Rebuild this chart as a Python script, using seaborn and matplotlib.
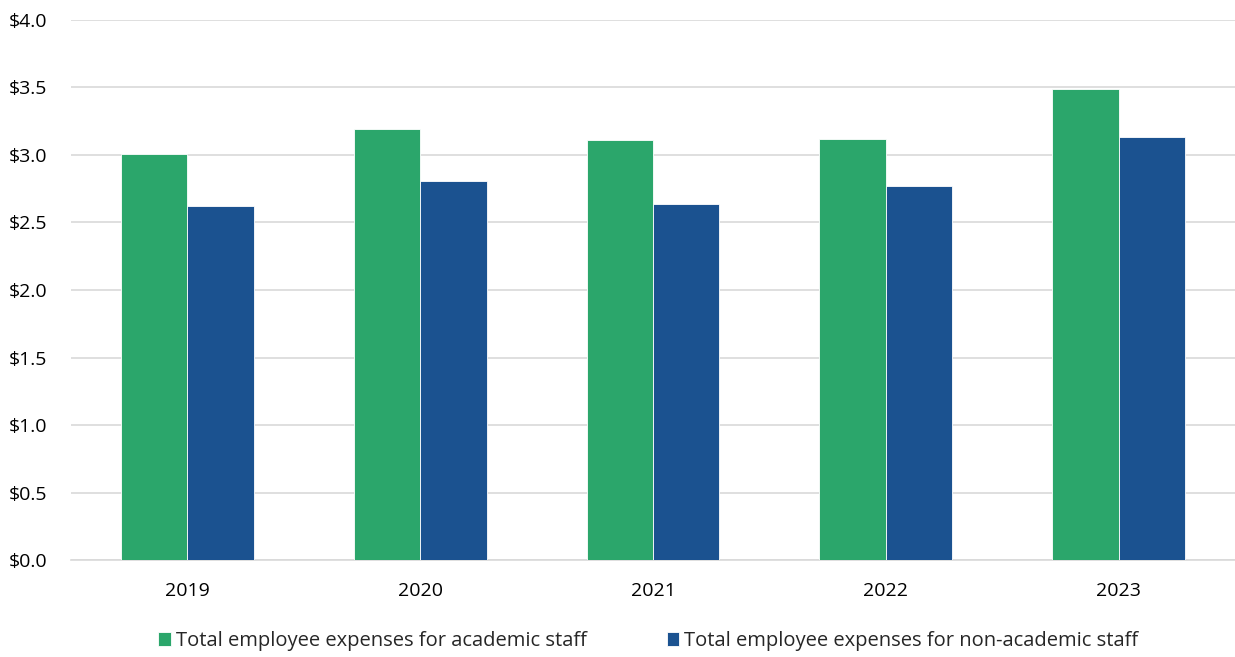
import matplotlib
matplotlib.use("Agg")
import matplotlib.pyplot as plt
import seaborn as sns
import pandas as pd
from matplotlib.ticker import FuncFormatter

# -----------------------------
# data (billions)
# -----------------------------
years = ["2019", "2020", "2021", "2022", "2023"]
academic = [3.01, 3.19, 3.11, 3.12, 3.49]
non_academic = [2.62, 2.81, 2.64, 2.77, 3.13]
series_names = [
    "Total employee expenses for academic staff",
    "Total employee expenses for non-academic staff",
]
colors = ["#2BA66B", "#1B5290"]

df = pd.DataFrame({
    "year": years * 2,
    "value": academic + non_academic,
    "series": [series_names[0]] * len(years) + [series_names[1]] * len(years),
})

sns.set_style("white")
plt.rcParams["font.family"] = ["Open Sans", "DejaVu Sans"]

fig = plt.figure(figsize=(12.35, 6.57), dpi=100)
ax = fig.add_axes([0.0575, 0.1476, 0.9425, 0.822])

sns.barplot(data=df, x="year", y="value", hue="series", palette=colors,
            width=0.57, saturation=1, ax=ax, zorder=3, linewidth=0.6)

ax.set_ylim(0, 4.0)
ax.set_yticks([i * 0.5 for i in range(9)])
ax.yaxis.set_major_formatter(FuncFormatter(lambda v, _: f"${v:.1f}"))
ax.grid(axis="y", color="#D9D9D9", linewidth=1.2, zorder=0)
ax.set_axisbelow(True)
for s in ["top", "right", "left"]:
    ax.spines[s].set_visible(False)
ax.spines["bottom"].set_color("#D9D9D9")
ax.spines["bottom"].set_linewidth(1.2)
ax.tick_params(axis="both", length=0, labelsize=14, colors="#000000")
ax.tick_params(axis="x", pad=16)
for lab in ax.get_yticklabels():
    lab.set_horizontalalignment("left")
ax.yaxis.set_tick_params(pad=45)
ax.set_xlabel("")
ax.set_ylabel("")

handles, labels = ax.get_legend_handles_labels()
ax.get_legend().remove()
fig.legend(handles, labels, loc="center", bbox_to_anchor=(0.525, 0.024), ncol=2,
           frameon=False, fontsize=14.5, handlelength=0.6, handleheight=0.7,
           handletextpad=0.25, columnspacing=4.0)

fig.savefig("out.png", dpi=100)
plt.close(fig)
